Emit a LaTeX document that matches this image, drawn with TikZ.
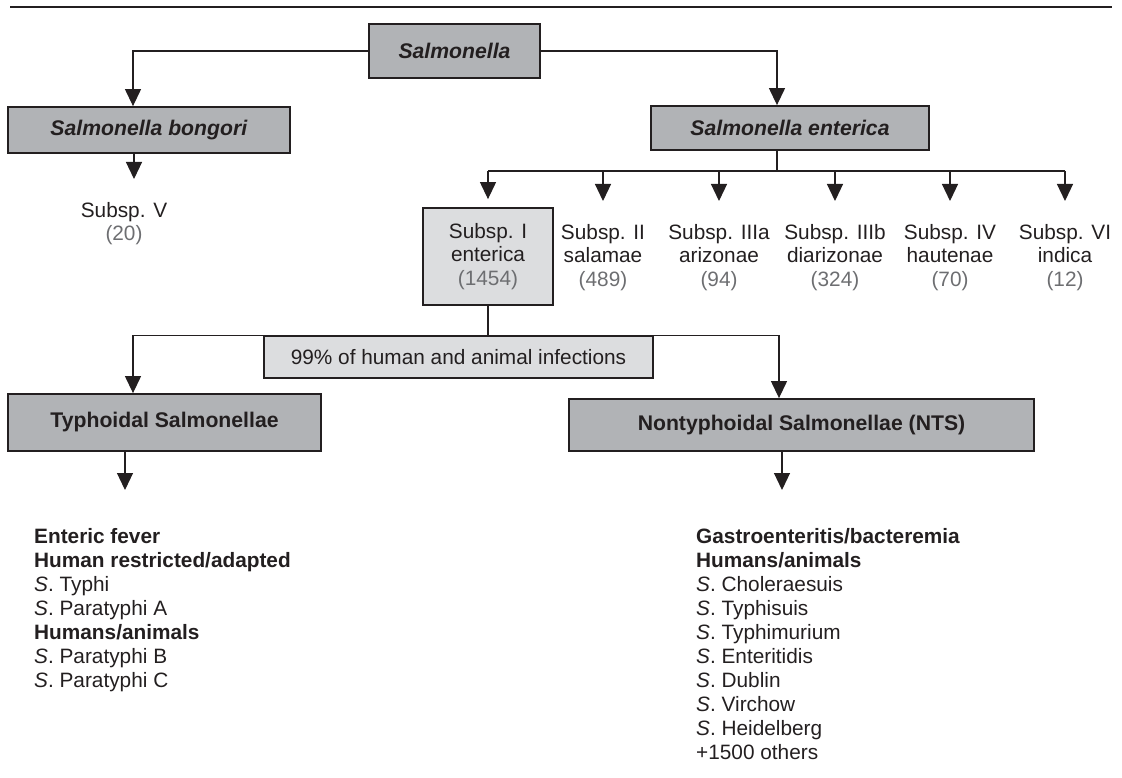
\documentclass[tikz,border=0pt]{standalone}
\usepackage{fontspec}
\setmainfont{Liberation Sans}
\usetikzlibrary{arrows.meta}
\definecolor{inkline}{HTML}{231F20}
\definecolor{boxgray}{HTML}{B1B3B6}
\definecolor{palegray}{HTML}{DCDDDF}
\definecolor{numgray}{HTML}{6D6E71}

\begin{document}
\begin{tikzpicture}[x=1pt,y=-1pt,
    font=\fontsize{20.8}{23.5}\selectfont,
    conn/.style={inkline,line width=1.2pt},
    arr/.style={conn,-{Triangle[length=17pt,width=16pt]}},
    taxbox/.style={draw=inkline,line width=1.8pt,fill=boxgray,text=inkline,font=\fontsize{21.2}{23.5}\selectfont\bfseries},
    subbox/.style={draw=inkline,line width=1.8pt,fill=palegray,text=inkline,align=center},
    sublabel/.style={anchor=north,inner xsep=0pt,inner ysep=23pt,align=center,text=inkline},
    hostlist/.style={anchor=north west,inner xsep=0pt,inner ysep=38pt,align=left,text=inkline,font=\fontsize{20.8}{24}\selectfont}]
    \useasboundingbox (0,0) rectangle (1122,778);
    %\draw[help lines] (0,0) grid[step=50] (1122,778);
    \draw[conn] (10,7) -- (1112,7);

    \node[taxbox,minimum width=171pt,minimum height=54pt] (salm) at (454.5,51) {\textit{Salmonella}};
    \node[taxbox,minimum width=282pt,minimum height=46pt] (bong) at (149,130) {\textit{Salmonella bongori}};
    \node[taxbox,minimum width=278pt,minimum height=44pt] (ent) at (790,128) {\textit{Salmonella enterica}};

    \node[sublabel] (s5) at (124,179) {Subsp. V\\\textcolor{numgray}{(20)}};
    \node[subbox,minimum width=130pt,minimum height=97pt] (s1) at (488,256.5) {Subsp. I\\enterica\\\textcolor{numgray}{(1454)}};
    \foreach \n/\x/\sp/\name/\cnt in {s2/603/II/salamae/489, s3a/719/IIIa/arizonae/94, s3b/835/IIIb/diarizonae/324, s4/950/IV/hautenae/70, s6/1065/VI/indica/12}
    \node[sublabel] (\n) at (\x,201) {Subsp. \sp\\\name\\\textcolor{numgray}{(\cnt)}};

    \node[subbox,minimum width=389pt,minimum height=42pt,inner sep=0pt] (inf) at (458.5,357) {99\% of human and animal infections};
    \node[taxbox,minimum width=313pt,minimum height=57pt] (typh) at (164.5,422.5) {Typhoidal Salmonellae};
    \node[taxbox,minimum width=465pt,minimum height=52pt] (nts) at (801.5,425) {Nontyphoidal Salmonellae (NTS)};

    \node[hostlist] (tlist) at (34,490) {\textbf{Enteric fever}\\\textbf{Human restricted/adapted}\\\textit{S}. Typhi\\\textit{S}. Paratyphi A\\\textbf{Humans/animals}\\\textit{S}. Paratyphi B\\\textit{S}. Paratyphi C};
    \node[hostlist] (nlist) at (696,490) {\textbf{Gastroenteritis/bacteremia}\\\textbf{Humans/animals}\\\textit{S}. Choleraesuis\\\textit{S}. Typhisuis\\\textit{S}. Typhimurium\\\textit{S}. Enteritidis\\\textit{S}. Dublin\\\textit{S}. Virchow\\\textit{S}. Heidelberg\\+1500 others};

    \draw[arr] (salm.west) -| ([xshift=-16pt]bong.north);
    \draw[arr] (salm.east) -| ([xshift=-13pt]ent.north);
    \draw[arr] ([xshift=-15pt]bong.south) -- ([xshift=10pt]s5.north);

    \coordinate (bus) at (777,171);
    \draw[conn] ([xshift=-13pt]ent.south) -- (bus);
    \draw[conn] (s1.north |- bus) -- (s6.north |- bus);
    \draw[arr,shorten >=8pt] (s1.north |- bus) -- (s1.north);
    \foreach \n in {s2,s3a,s3b,s4,s6}
    \draw[arr] (\n.north |- bus) -- (\n.north);

    \draw[conn] (s1.south) -- (s1.south |- inf.north);
    \draw[arr] (inf.north) -| ([xshift=-31.5pt]typh.north);
    \draw[arr] (inf.north) -| ([xshift=-22.5pt]nts.north);
    \draw[arr] ([xshift=-39.5pt]typh.south) -- ([xshift=-39.5pt]typh.south |- tlist.north);
    \draw[arr] ([xshift=-19.5pt]nts.south) -- ([xshift=-19.5pt]nts.south |- nlist.north);
\end{tikzpicture}
\end{document}
